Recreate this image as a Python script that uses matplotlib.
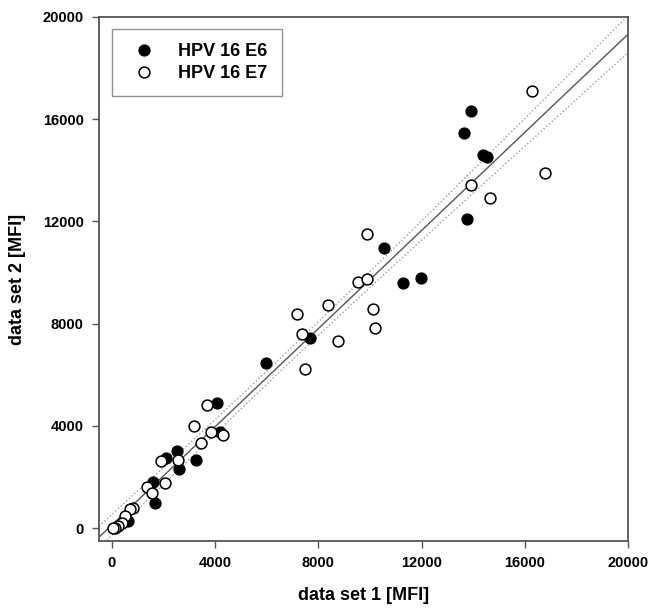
#!/usr/bin/env python
import numpy as np
import matplotlib
matplotlib.use('Agg')
import matplotlib.pyplot as plt

# HPV 16 E6 (filled circles)
e6_x = [13915, 13643, 14380, 14535, 13760, 10554, 11291, 11977, 7687, 5969,
        4057, 4186, 2506, 2080, 2610, 3256, 1576, 1667, 620]
e6_y = [16328, 15469, 14609, 14531, 12109, 10949, 9596, 9805, 7448, 6471,
        4883, 3776, 3020, 2760, 2305, 2668, 1810, 1000, 270]

# HPV 16 E7 (open circles)
e7_x = [16279, 16783, 13915, 14651, 9871, 9547, 9884, 8384, 10104, 7158,
        7364, 10181, 8748, 7493, 3669, 3191, 3450, 3837, 4290, 1888,
        2571, 2054, 1344, 1537, 826, 698, 504, 375, 245, 116, 50]
e7_y = [17109, 13906, 13437, 12930, 11496, 9621, 9754, 8738, 8582, 8387,
        7605, 7824, 7305, 6238, 4805, 3997, 3346, 3776, 3660, 2630,
        2656, 1758, 1628, 1393, 807, 742, 482, 222, 90, 27, 0]

ticks = [0, 4000, 8000, 12000, 16000, 20000]

plt.rcParams['font.family'] = ['Liberation Sans', 'DejaVu Sans']


def regression_band(x, y, xs, t=1.75):
    x = np.asarray(x, float)
    y = np.asarray(y, float)
    n = len(x)
    slope, icpt = np.polyfit(x, y, 1)
    resid = y - (slope * x + icpt)
    s = np.sqrt(np.sum(resid ** 2) / (n - 2))
    sxx = np.sum((x - x.mean()) ** 2)
    hw = t * s * np.sqrt(1.0 / n + (xs - x.mean()) ** 2 / sxx)
    fit = slope * xs + icpt
    return fit, fit - hw, fit + hw


def plot_mfi():
    fig = plt.figure(figsize=(6.62, 6.09), dpi=100)
    ax = fig.add_axes([0.1495, 0.1117, 0.7991, 0.8604])

    xs = np.linspace(-500, 20000, 200)
    fit, lo, hi = regression_band(e6_x + e7_x, e6_y + e7_y, xs)
    ax.plot(xs, fit, color='#555555', lw=1.0, zorder=1)
    ax.plot(xs, lo, color='#999999', lw=1.0, ls=':', zorder=1)
    ax.plot(xs, hi, color='#999999', lw=1.0, ls=':', zorder=1)

    ax.plot(e6_x, e6_y, 'o', ms=7.8, mfc='black', mec='black',
            label='HPV 16 E6', zorder=3)
    ax.plot(e7_x, e7_y, 'o', ms=7.8, mfc='white', mec='black', mew=1.1,
            label='HPV 16 E7', zorder=3)

    ax.set_xlim(-500, 20000)
    ax.set_ylim(-500, 20000)
    ax.set_xticks(ticks)
    ax.set_yticks(ticks)
    ax.set_xticklabels([str(t) for t in ticks], fontsize=10.5, fontweight='bold')
    ax.set_yticklabels([str(t) for t in ticks], fontsize=10.5, fontweight='bold')
    ax.tick_params(direction='out', length=5, width=1, color='#555555', pad=6)
    for sp in ax.spines.values():
        sp.set_color('#555555')
        sp.set_linewidth(1.3)

    ax.set_xlabel('data set 1 [MFI]', fontsize=13, fontweight='bold', labelpad=12)
    ax.set_ylabel('data set 2 [MFI]', fontsize=13, fontweight='bold', labelpad=12)

    leg = ax.legend(loc='upper left', bbox_to_anchor=(0.025, 0.977),
                    borderaxespad=0, frameon=True, fancybox=False,
                    prop={'size': 13, 'weight': 'bold'},
                    handlelength=1.9, handletextpad=0.95, labelspacing=0.25,
                    borderpad=0.8)
    leg.get_frame().set_edgecolor('#777777')
    leg.get_frame().set_linewidth(1.0)

    plt.savefig('out.png', dpi=100)


if __name__ == "__main__":
    plot_mfi()
